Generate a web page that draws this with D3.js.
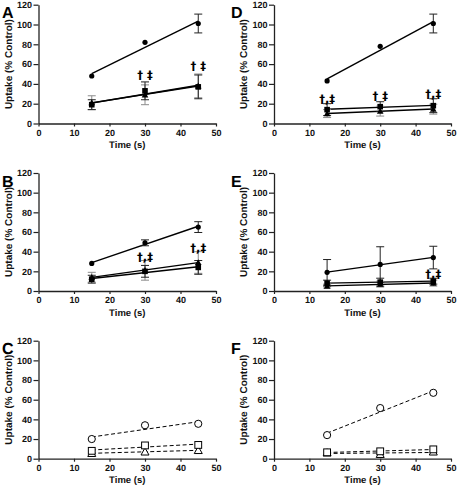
<!DOCTYPE html>
<html><head><meta charset="utf-8">
<script src="https://cdn.jsdelivr.net/npm/d3@7"></script>
<style>
html,body{margin:0;padding:0;background:#fff;}
svg{display:block;font-family:"Liberation Sans",Arial,sans-serif;}
text{text-rendering:geometricPrecision;}
</style></head>
<body><svg id="chart" width="458" height="488"></svg>
<script>
// ---- data ----
const times = [15, 30, 45];
const xTicks = [0, 10, 20, 30, 40, 50];
const yTicks = [0, 20, 40, 60, 80, 100, 120];
const xLabel = "Time (s)";
const yLabel = "Uptake (% Control)";

// Panel A
const A_circle = [48, 82, 101], A_circleErr = [0, 0, 9.5];
const A_square = [19, 33, 37], A_squareErr = [5, 9, 12];
const A_tri = [21, 29, 38], A_triErr = [7, 10, 12];
const A_annX = [30, 45], A_annY = [45, 54], A_annText = ["† ‡", "† ‡"];
// Panel B
const B_circle = [28, 49, 65], B_circleErr = [0, 3, 5.5];
const B_square = [12, 20, 24], B_squareErr = [4, 6, 7];
const B_tri = [14, 21, 29], B_triErr = [5, 10, 11];
const B_annX = [30, 45], B_annY = [31, 40], B_annText = ["†,‡", "†,‡"];
// Panel C (no error bars, open symbols, dashed)
const C_circle = [20, 34, 35.5];
const C_square = [8, 13.5, 14];
const C_tri = [5.5, 7, 8.5];
// Panel D
const D_circle = [43, 78, 101], D_circleErr = [0, 0, 9.5];
const D_square = [14, 17, 18], D_squareErr = [6, 5, 7];
const D_tri = [10, 12.5, 14.5], D_triErr = [4, 5, 5];
const D_annX = [15, 30, 45], D_annY = [21, 23.5, 26], D_annText = ["†,‡", "† ‡", "†,‡"];
// Panel E
const E_circle = [19, 27, 34], E_circleErr = [13, 18, 11.5];
const E_square = [8, 9, 10], E_squareErr = [3, 4, 3];
const E_tri = [5, 7, 8], E_triErr = [2, 3, 3];
const E_annX = [45], E_annY = [13], E_annText = ["†,‡"];
// Panel F
const F_circle = [24, 51.5, 67];
const F_square = [6.5, 7.5, 9.5];
const F_tri = [6, 4.5, 7];

// ---- layout ----
const cols = [[38.5, 216], [274, 451]];
const rows = [[123.5, 4.7], [291, 173], [458.7, 340.7]];

const svg = d3.select("#chart");
const FONT = '"Liberation Sans",Arial,sans-serif';

function series(vals, errs, shape) {
  return { vals, errs, shape };
}

const panels = [
  { letter: "A", col: 0, row: 0, open: false,
    series: [series(A_circle, A_circleErr, "circle"), series(A_tri, A_triErr, "triangle"), series(A_square, A_squareErr, "square")],
    ann: A_annX.map((x, i) => ({ x, y: A_annY[i], t: A_annText[i] })) },
  { letter: "B", col: 0, row: 1, open: false,
    series: [series(B_circle, B_circleErr, "circle"), series(B_tri, B_triErr, "triangle"), series(B_square, B_squareErr, "square")],
    ann: B_annX.map((x, i) => ({ x, y: B_annY[i], t: B_annText[i] })) },
  { letter: "C", col: 0, row: 2, open: true,
    series: [series(C_circle, null, "circle"), series(C_tri, null, "triangle"), series(C_square, null, "square")],
    ann: [] },
  { letter: "D", col: 1, row: 0, open: false,
    series: [series(D_circle, D_circleErr, "circle"), series(D_tri, D_triErr, "triangle"), series(D_square, D_squareErr, "square")],
    ann: D_annX.map((x, i) => ({ x, y: D_annY[i], t: D_annText[i] })) },
  { letter: "E", col: 1, row: 1, open: false,
    series: [series(E_circle, E_circleErr, "circle"), series(E_tri, E_triErr, "triangle"), series(E_square, E_squareErr, "square")],
    ann: E_annX.map((x, i) => ({ x, y: E_annY[i], t: E_annText[i] })) },
  { letter: "F", col: 1, row: 2, open: true,
    series: [series(F_circle, null, "circle"), series(F_tri, null, "triangle"), series(F_square, null, "square")],
    ann: [] }
];

function linFit(xs, ys) {
  const n = xs.length;
  const mx = d3.mean(xs), my = d3.mean(ys);
  let sxy = 0, sxx = 0;
  for (let i = 0; i < n; i++) { sxy += (xs[i] - mx) * (ys[i] - my); sxx += (xs[i] - mx) ** 2; }
  const b = sxy / sxx;
  return x => my + b * (x - mx);
}

panels.forEach(p => {
  const [x0, x1] = cols[p.col];
  const [y0, y1] = rows[p.row];
  const x = d3.scaleLinear().domain([0, 50]).range([x0, x1]);
  const y = d3.scaleLinear().domain([0, 120]).range([y0, y1]);
  const g = svg.append("g");

  // axes
  const xa = g.append("g").attr("transform", `translate(0,${y0})`)
    .call(d3.axisBottom(x).tickValues(xTicks).tickSize(3).tickSizeOuter(0).tickPadding(3));
  const ya = g.append("g").attr("transform", `translate(${x0},0)`)
    .call(d3.axisLeft(y).tickValues(yTicks).tickSize(5).tickSizeOuter(0).tickPadding(1.5));
  [xa, ya].forEach(a => {
    a.selectAll("path.domain").attr("stroke", "#222").attr("stroke-width", 1.3);
    a.selectAll(".tick line").attr("stroke", "#222").attr("stroke-width", 1.2);
    a.selectAll("text").attr("font-family", FONT).attr("font-weight", "bold")
      .attr("font-size", 9).attr("fill", "#111");
  });

  // axis titles
  g.append("text").attr("x", (x0 + x1) / 2).attr("y", y0 + 24.5)
    .attr("text-anchor", "middle").attr("font-family", FONT).attr("font-weight", "bold")
    .attr("font-size", 9.5).attr("fill", "#111").text(xLabel);
  g.append("text").attr("transform", `translate(${x0 - 27},${(y0 + y1) / 2}) rotate(-90)`)
    .attr("text-anchor", "middle").attr("font-family", FONT).attr("font-weight", "bold")
    .attr("font-size", 10).attr("fill", "#111").text(yLabel);

  // panel letter
  g.append("text").attr("x", p.col === 0 ? 2 : 231).attr("y", y1 + 13.5)
    .attr("font-family", FONT).attr("font-weight", "bold").attr("font-size", 16)
    .attr("fill", "#000").text(p.letter);

  // regression lines
  p.series.forEach(s => {
    const f = linFit(times, s.vals);
    g.append("line")
      .attr("x1", x(times[0])).attr("y1", y(f(times[0])))
      .attr("x2", x(times[times.length - 1])).attr("y2", y(f(times[times.length - 1])))
      .attr("stroke", "#000").attr("stroke-width", p.open ? 1 : 1.4)
      .attr("stroke-dasharray", p.open ? "4,2.5" : null);
  });

  // error bars
  p.series.forEach(s => {
    if (!s.errs) return;
    const col = s.shape === "triangle" ? "#8c8c8c" : "#222";
    times.forEach((t, i) => {
      const e = s.errs[i];
      if (!e) return;
      const cx = x(t), top = y(s.vals[i] + e), bot = y(s.vals[i] - e);
      g.append("line").attr("x1", cx).attr("x2", cx).attr("y1", top).attr("y2", bot)
        .attr("stroke", col).attr("stroke-width", 1);
      [top, bot].forEach(yy => g.append("line").attr("x1", cx - 4).attr("x2", cx + 4)
        .attr("y1", yy).attr("y2", yy).attr("stroke", col).attr("stroke-width", 1));
    });
  });

  // markers
  p.series.forEach(s => {
    times.forEach((t, i) => {
      const cx = x(t), cy = y(s.vals[i]);
      const fill = p.open ? "#fff" : "#000";
      const sw = p.open ? 1 : 0;
      let m;
      if (s.shape === "circle") {
        m = g.append("circle").attr("cx", cx).attr("cy", cy).attr("r", p.open ? 3.6 : 2.6);
      } else if (s.shape === "square") {
        const h = p.open ? 3.4 : 2.8;
        m = g.append("rect").attr("x", cx - h).attr("y", cy - h).attr("width", 2 * h).attr("height", 2 * h);
      } else {
        const h = p.open ? 4 : 3.3;
        m = g.append("path").attr("d", `M${cx},${cy - h}L${cx + h},${cy + h * 0.8}L${cx - h},${cy + h * 0.8}Z`);
      }
      m.attr("fill", fill).attr("stroke", "#000").attr("stroke-width", sw);
    });
  });

  // significance annotations
  p.ann.forEach(a => {
    g.append("text").attr("x", x(a.x)).attr("y", y(a.y))
      .attr("text-anchor", "middle").attr("font-family", '"DejaVu Sans",sans-serif').attr("font-weight", "bold")
      .attr("font-size", 11.5).attr("fill", "#000").text(a.t);
  });
});
</script></body></html>
